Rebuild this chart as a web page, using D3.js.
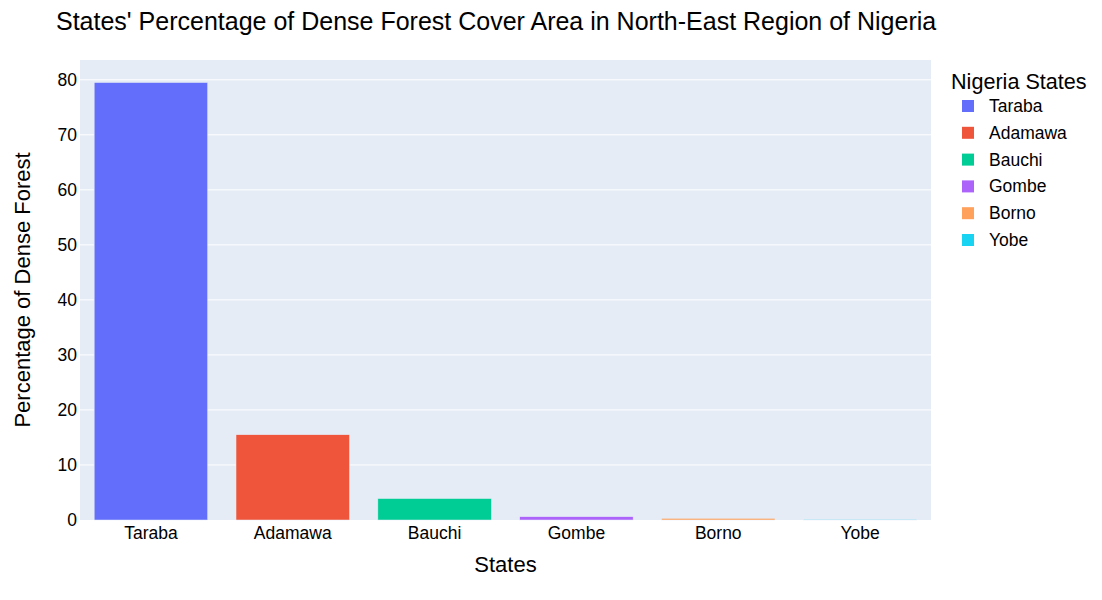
<!DOCTYPE html>
<html><head><meta charset="utf-8">
<script src="https://cdn.jsdelivr.net/npm/d3@7"></script>
<style>body{margin:0;background:#fff;} text{font-family:Arial,"Liberation Sans",sans-serif;fill:#000;}</style>
</head><body><svg id="c" width="1102" height="600"></svg>
<script>
const states = ["Taraba","Adamawa","Bauchi","Gombe","Borno","Yobe"];
const denseForestPct = [79.5,15.5,3.9,0.6,0.3,0.1];
const colors = ["#636EFA","#EF553B","#00CC96","#AB63FA","#FFA15A","#19D3F3"];
const yTicks = [0,10,20,30,40,50,60,70,80];
const titleText = "States' Percentage of Dense Forest Cover Area in North-East Region of Nigeria";
const xTitle = "States", yTitle = "Percentage of Dense Forest", legendTitle = "Nigeria States";

const svg = d3.select("#c");
const m = {l:80, t:60, r:1102-931, b:600-520};
const W = 1102, H = 600;
const FF = "Arial, 'Liberation Sans', sans-serif";
const x = d3.scaleBand().domain(states).range([m.l, W-m.r]).paddingInner(0.2).paddingOuter(0.1);
const y = d3.scaleLinear().domain([0, 83.6]).range([H-m.b, m.t]);

svg.append("rect").attr("x",m.l).attr("y",m.t).attr("width",W-m.r-m.l).attr("height",H-m.b-m.t).attr("fill","#E5ECF6");
const gy = svg.append("g").attr("transform",`translate(${m.l},0)`)
  .call(d3.axisLeft(y).tickValues(yTicks).tickSize(0).tickPadding(3).tickFormat(d3.format("d")));
gy.select(".domain").remove();
gy.selectAll("text").attr("font-size",17.5).attr("font-family",FF).attr("fill","#000");
svg.append("g").selectAll("line").data(yTicks.filter(d=>d>0)).join("line")
  .attr("x1",m.l).attr("x2",W-m.r).attr("y1",d=>y(d)).attr("y2",d=>y(d)).attr("stroke","#fff").attr("stroke-width",1);

svg.append("g").selectAll("rect").data(states).join("rect")
  .attr("x",d=>x(d)).attr("width",x.bandwidth())
  .attr("y",(d,i)=>y(denseForestPct[i])).attr("height",(d,i)=>y(0)-y(denseForestPct[i]))
  .attr("fill",(d,i)=>colors[i]).attr("stroke","#E5ECF6").attr("stroke-width",0.5);

const gx = svg.append("g").attr("transform",`translate(0,${H-m.b})`)
  .call(d3.axisBottom(x).tickSize(0).tickPadding(7));
gx.select(".domain").remove();
gx.selectAll("text").attr("font-size",17.5).attr("font-family",FF).attr("fill","#000");

svg.append("text").attr("x",56).attr("y",30).attr("font-size",25).text(titleText);
svg.append("text").attr("x",(m.l+W-m.r)/2).attr("y",572).attr("text-anchor","middle").attr("font-size",22).text(xTitle);
svg.append("text").attr("transform",`translate(30,${(m.t+H-m.b)/2}) rotate(-90)`).attr("text-anchor","middle").attr("font-size",22).text(yTitle);

const lg = svg.append("g");
lg.append("text").attr("x",951).attr("y",89).attr("font-size",21.6).text(legendTitle);
const items = lg.selectAll("g.it").data(states).join("g").attr("class","it")
  .attr("transform",(d,i)=>`translate(0,${106+i*26.8})`);
items.append("rect").attr("x",962).attr("y",-6).attr("width",12).attr("height",12).attr("fill",(d,i)=>colors[i]);
items.append("text").attr("x",989).attr("y",6).attr("font-size",17.5).text(d=>d);
</script></body></html>
